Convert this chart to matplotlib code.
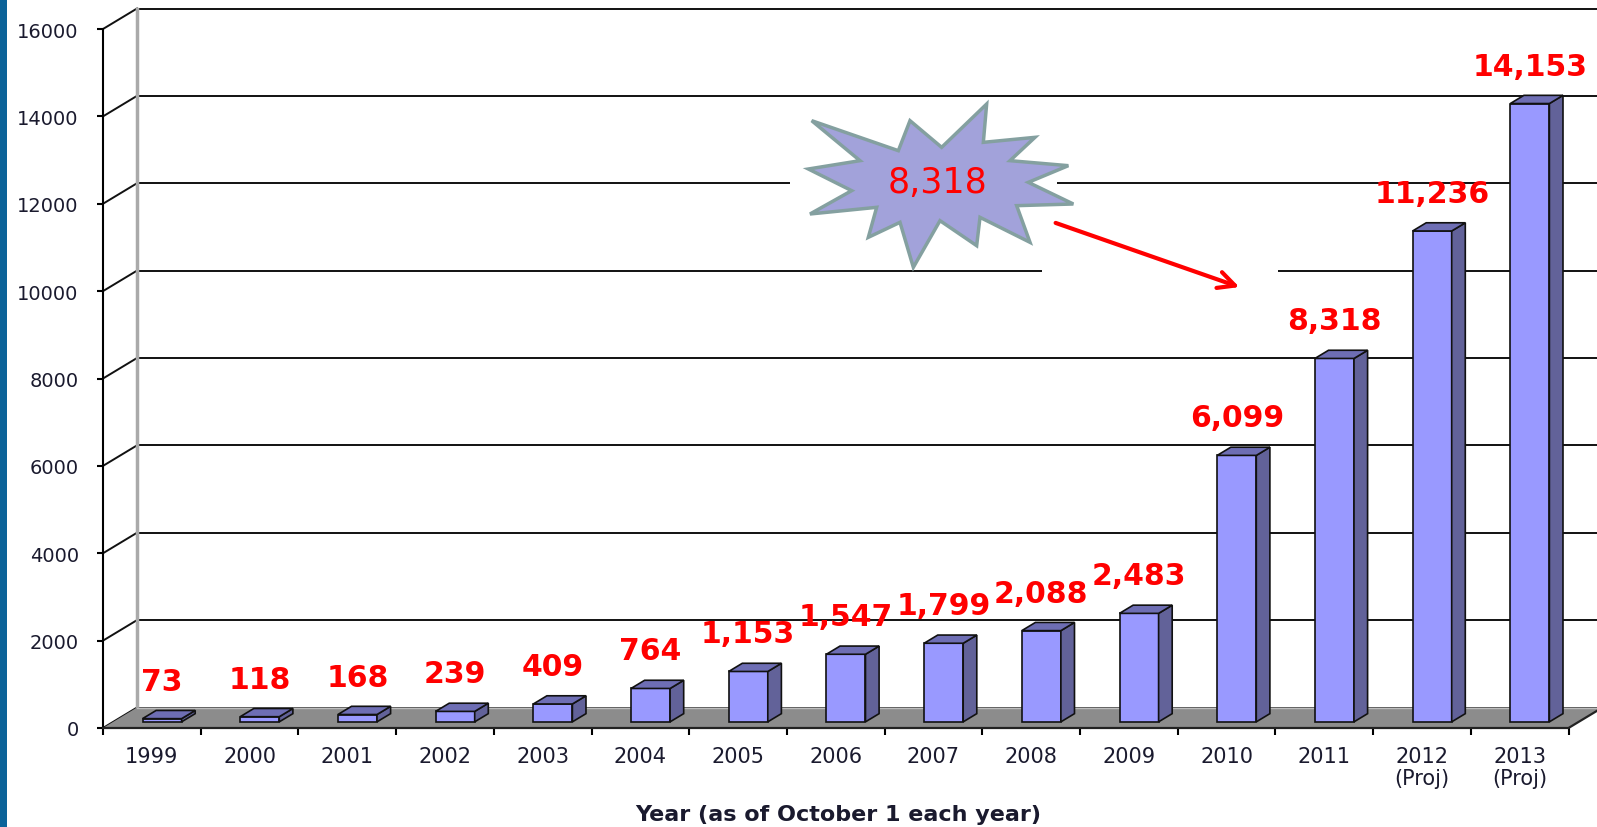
import matplotlib
matplotlib.use("Agg")
import matplotlib.pyplot as plt
from matplotlib.patches import Polygon, Rectangle, FancyArrowPatch

# data
years = ["1999", "2000", "2001", "2002", "2003", "2004", "2005", "2006",
         "2007", "2008", "2009", "2010", "2011", "2012\n(Proj)", "2013\n(Proj)"]
counts = [73, 118, 168, 239, 409, 764, 1153, 1547, 1799, 2088, 2483,
          6099, 8318, 11236, 14153]
yticks = [0, 2000, 4000, 6000, 8000, 10000, 12000, 14000, 16000]
highlight = "8,318"

W, H = 1597, 828
fig = plt.figure(figsize=(W / 100, H / 100), dpi=100)


def px(x, y):
    # pixel (top-left origin) -> figure fraction
    return x / W, 1 - y / H


# axes: front left axis at x=103, baseline at y=729
ax = fig.add_axes([103 / W, 1 - 729 / H, (W - 103) / W, 729 / H])
n = len(counts)
xpp = 97.7          # pixels per category
ypp = 699 / 16000   # pixels per unit
ax.set_xlim(0, (W - 103) / xpp)
ax.set_ylim(0, 729 / ypp)
DX = 34 / xpp       # depth offset (category units)
DY = 20.5 / ypp     # depth offset (value units)

for s in ["top", "right", "bottom"]:
    ax.spines[s].set_visible(False)
ax.spines["left"].set_bounds(0, yticks[-1])
ax.spines["left"].set_linewidth(1.5)
ax.patch.set_visible(False)

# back wall grid + left wall diagonals
for v in yticks:
    ax.plot([DX, ax.get_xlim()[1]], [v + DY, v + DY], color="#111111", lw=1.4, zorder=1)
    ax.plot([0, DX], [v, v + DY], color="#111111", lw=1.4, zorder=1)
ax.plot([DX, DX], [DY, yticks[-1] + DY], color="#aaaaaa", lw=2.5, zorder=1)

# floor
floor = Polygon([(0, 0), (n, 0), (n + DX, DY), (DX, DY)], closed=True,
                facecolor="#8c8c8c", edgecolor="none", zorder=2)
ax.add_patch(floor)
ax.plot([0, n, n + DX], [0, 0, DY], color="#222222", lw=1.6, zorder=3, clip_on=False)
ax.plot([DX, n + DX], [DY, DY], color="#bdbdbd", lw=1, zorder=2)

# 3D bars
bw = 0.4
d0, d1 = 0.3, 0.7
for i, v in enumerate(counts):
    x0 = i + 0.5 - bw / 2 + d0 * DX
    x1 = x0 + bw
    yb = d0 * DY
    ox = (d1 - d0) * DX
    oy = (d1 - d0) * DY
    front = Polygon([(x0, yb), (x1, yb), (x1, yb + v), (x0, yb + v)],
                    facecolor="#9999ff", edgecolor="#111111", lw=1.2, zorder=5)
    side = Polygon([(x1, yb), (x1 + ox, yb + oy), (x1 + ox, yb + v + oy), (x1, yb + v)],
                   facecolor="#626299", edgecolor="#111111", lw=1.2, zorder=5)
    top = Polygon([(x0, yb + v), (x1, yb + v), (x1 + ox, yb + v + oy), (x0 + ox, yb + v + oy)],
                  facecolor="#6e6eb4", edgecolor="#111111", lw=1.2, zorder=5)
    for p in (front, side, top):
        ax.add_patch(p)
    ax.annotate(f"{v:,}", xy=(i + 0.5 + 0.3 * DX, v + d0 * DY), xytext=(0, 27),
                textcoords="offset points", ha="center", va="center",
                fontsize=21.5, fontweight="bold", color="#ff0000", zorder=6)

# ticks
ax.set_yticks(yticks)
ax.set_yticklabels([str(v) for v in yticks])
ax.tick_params(axis="y", direction="out", length=4.5, width=1.5, pad=13,
               labelsize=14, labelcolor="#1a1a2e")
ax.set_xticks(range(n + 1))
ax.set_xticklabels([])
ax.set_xticks([i + 0.5 for i in range(n)], minor=True)
ax.set_xticklabels(years, minor=True, fontsize=15, color="#1a1a2e", linespacing=1.15)
ax.tick_params(axis="x", which="major", direction="out", length=5, width=1.5)
ax.tick_params(axis="x", which="minor", length=0, pad=13)
ax.xaxis.set_ticks_position("bottom")

fig.text(*px(838, 815), "Year (as of October 1 each year)", ha="center", va="center",
         fontsize=16, fontweight="bold", color="#1a1a2e")

# white backgrounds behind the callout
fig.patches.append(Rectangle(px(790, 266), 267 / W, 166 / H, transform=fig.transFigure,
                             facecolor="white", edgecolor="none", zorder=2))
fig.patches.append(Rectangle(px(1042, 295), 236 / W, 80 / H, transform=fig.transFigure,
                             facecolor="white", edgecolor="none", zorder=2))

# starburst
star_px = [(95, 95), (355, 185), (390, 95), (485, 175), (620, 45), (610, 160),
           (765, 145), (690, 215), (865, 230), (745, 280), (880, 345), (710, 350),
           (750, 460), (600, 385), (590, 470), (480, 395), (400, 535), (360, 400),
           (265, 445), (290, 355), (90, 375), (215, 305), (85, 240), (240, 215)]
star_pts = [px(780 + a / 3, 90 + b / 3) for a, b in star_px]
fig.patches.append(Polygon(star_pts, closed=True, transform=fig.transFigure,
                           facecolor="#a2a2da", edgecolor="#84a0a0", lw=2.5, zorder=3))
t = fig.text(*px(938, 183), highlight, ha="center", va="center", fontsize=25,
             color="#ff0000", zorder=4)

arrow = FancyArrowPatch(px(1053, 223), px(1242, 289), transform=fig.transFigure,
                        arrowstyle="->,head_length=12,head_width=6", color="#ff0000",
                        lw=3, zorder=4)
fig.patches.append(arrow)

# left blue stripe
fig.patches.append(Rectangle((0, 0), 7 / W, 1, transform=fig.transFigure,
                             facecolor="#0b6399", edgecolor="none", zorder=1))

fig.savefig("out.png", dpi=100)
